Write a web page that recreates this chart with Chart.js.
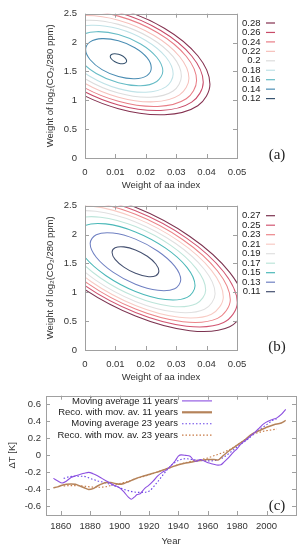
<!DOCTYPE html>
<html>
<head>
<meta charset="utf-8">
<script src="https://cdn.jsdelivr.net/npm/chart.js@4.4.1/dist/chart.umd.min.js"></script>
<style>
  html, body { margin: 0; padding: 0; background: #fff; }
  body { width: 301px; height: 550px; position: relative; overflow: hidden; }
  canvas { position: absolute; left: 0; }
  #chartA { top: 0; }
  #chartB { top: 192px; }
  #chartC { top: 385px; }
</style>
</head>
<body>
<canvas id="chartA" width="301" height="195"></canvas>
<canvas id="chartB" width="301" height="195"></canvas>
<canvas id="chartC" width="301" height="165"></canvas>
<script>
// ticks of panels (a) and (b)
const aaTicks = [0, 0.01, 0.02, 0.03, 0.04, 0.05];
const co2Ticks = [0, 0.5, 1, 1.5, 2, 2.5];

// panel (a) - contour levels, top of the key first
const levelsA = [0.28, 0.26, 0.24, 0.22, 0.2, 0.18, 0.16, 0.14, 0.12];
const a028 = [[0.0411,1.279],[0.0371,1.771],[0.0261,2.249],[0.0110,2.585],[-0.0041,2.690],[-0.0151,2.534],[-0.0191,2.161],[-0.0151,1.669],[-0.0041,1.191],[0.0110,0.855],[0.0261,0.751],[0.0371,0.906]];
const a026 = [[0.0389,1.312],[0.0351,1.767],[0.0249,2.209],[0.0110,2.520],[-0.0029,2.617],[-0.0131,2.473],[-0.0169,2.128],[-0.0131,1.673],[-0.0029,1.231],[0.0110,0.920],[0.0249,0.823],[0.0351,0.967]];
const a024 = [[0.0367,1.344],[0.0333,1.763],[0.0239,2.171],[0.0110,2.458],[-0.0019,2.547],[-0.0113,2.415],[-0.0147,2.096],[-0.0113,1.677],[-0.0019,1.269],[0.0110,0.982],[0.0239,0.893],[0.0333,1.026]];
const a022 = [[0.0342,1.380],[0.0311,1.759],[0.0226,2.127],[0.0110,2.387],[-0.0006,2.467],[-0.0091,2.347],[-0.0122,2.060],[-0.0091,1.681],[-0.0006,1.313],[0.0110,1.054],[0.0226,0.973],[0.0311,1.093]];
const a020 = [[0.0317,1.417],[0.0290,1.755],[0.0214,2.084],[0.0110,2.315],[0.0006,2.387],[-0.0070,2.280],[-0.0097,2.023],[-0.0070,1.685],[0.0006,1.356],[0.0110,1.125],[0.0214,1.053],[0.0290,1.160]];
const a018 = [[0.0290,1.456],[0.0266,1.750],[0.0200,2.037],[0.0110,2.238],[0.0020,2.300],[-0.0046,2.207],[-0.0070,1.984],[-0.0046,1.690],[0.0020,1.404],[0.0110,1.202],[0.0200,1.140],[0.0266,1.233]];
const a016 = [[0.0256,1.507],[0.0236,1.745],[0.0183,1.976],[0.0110,2.139],[0.0037,2.189],[-0.0016,2.114],[-0.0036,1.933],[-0.0016,1.695],[0.0037,1.464],[0.0110,1.302],[0.0183,1.251],[0.0236,1.326]];
const a014 = [[0.0218,1.562],[0.0204,1.738],[0.0164,1.910],[0.0110,2.030],[0.0056,2.068],[0.0017,2.012],[0.0002,1.878],[0.0017,1.702],[0.0056,1.531],[0.0110,1.410],[0.0164,1.373],[0.0204,1.428]];
const a012 = [[0.0137,1.680],[0.0133,1.725],[0.0124,1.767],[0.0110,1.798],[0.0097,1.807],[0.0087,1.793],[0.0083,1.760],[0.0087,1.715],[0.0097,1.673],[0.0110,1.643],[0.0124,1.633],[0.0133,1.647]];
const contoursA = [a028, a026, a024, a022, a020, a018, a016, a014, a012];
const coloursA = ['#84304f', '#c84a68', '#e87d86', '#f6c0bb', '#dcdcdc', '#bfe2e7', '#66bcc6', '#4a8db3', '#37536f'];

// panel (b)
const levelsB = [0.27, 0.25, 0.23, 0.21, 0.19, 0.17, 0.15, 0.13, 0.11];
const b027 = [[0.0524,0.772],[0.0476,1.345],[0.0345,1.967],[0.0166,2.472],[-0.0013,2.725],[-0.0144,2.657],[-0.0192,2.285],[-0.0144,1.715],[-0.0013,1.093],[0.0166,0.589],[0.0345,0.335],[0.0476,0.402]];
const b025 = [[0.0501,0.821],[0.0456,1.356],[0.0334,1.939],[0.0166,2.411],[-0.0002,2.648],[-0.0124,2.584],[-0.0169,2.239],[-0.0124,1.704],[-0.0002,1.121],[0.0166,0.649],[0.0334,0.413],[0.0456,0.475]];
const b023 = [[0.0478,0.870],[0.0436,1.368],[0.0322,1.910],[0.0166,2.350],[0.0010,2.570],[-0.0104,2.512],[-0.0146,2.190],[-0.0104,1.692],[0.0010,1.150],[0.0166,0.710],[0.0322,0.490],[0.0436,0.548]];
const b021 = [[0.0455,0.919],[0.0416,1.380],[0.0310,1.882],[0.0166,2.289],[0.0022,2.493],[-0.0084,2.439],[-0.0123,2.141],[-0.0084,1.680],[0.0022,1.178],[0.0166,0.771],[0.0310,0.567],[0.0416,0.621]];
const b019 = [[0.0428,0.976],[0.0393,1.394],[0.0297,1.849],[0.0166,2.219],[0.0035,2.404],[-0.0061,2.354],[-0.0096,2.084],[-0.0061,1.666],[0.0035,1.211],[0.0166,0.842],[0.0297,0.657],[0.0393,0.706]];
const b017 = [[0.0397,1.041],[0.0366,1.410],[0.0282,1.812],[0.0166,2.138],[0.0051,2.301],[-0.0034,2.257],[-0.0065,2.019],[-0.0034,1.650],[0.0051,1.248],[0.0166,0.923],[0.0282,0.759],[0.0366,0.803]];
const b015 = [[0.0362,1.114],[0.0336,1.428],[0.0264,1.769],[0.0166,2.046],[0.0068,2.185],[-0.0004,2.148],[-0.0030,1.946],[-0.0004,1.632],[0.0068,1.291],[0.0166,1.014],[0.0264,0.875],[0.0336,0.912]];
const b013 = [[0.0315,1.215],[0.0295,1.453],[0.0240,1.711],[0.0166,1.921],[0.0092,2.026],[0.0037,1.998],[0.0017,1.845],[0.0037,1.607],[0.0092,1.349],[0.0166,1.139],[0.0240,1.034],[0.0295,1.062]];
const b011 = [[0.0243,1.367],[0.0233,1.490],[0.0205,1.624],[0.0166,1.733],[0.0128,1.787],[0.0099,1.772],[0.0089,1.693],[0.0099,1.570],[0.0128,1.436],[0.0166,1.328],[0.0205,1.273],[0.0233,1.288]];
const contoursB = [b027, b025, b023, b021, b019, b017, b015, b013, b011];
const coloursB = ['#7c3350', '#d25672', '#ec8589', '#f8cbc4', '#e0e0e0', '#bde5da', '#4ab8b8', '#6f80c2', '#445070'];

// panel (c)
const yearTicks = [1860, 1880, 1900, 1920, 1940, 1960, 1980, 2000];
const dtTicks = [-0.6, -0.4, -0.2, 0, 0.2, 0.4, 0.6];
const seriesNames = ['Moving average 11 years', 'Reco. with mov. av. 11 years', 'Moving average 23 years', 'Reco. with mov. av. 23 years'];
const ma11Years = [1855,1858,1861,1864,1867,1870,1873,1876,1879,1882,1885,1888,1891,1894,1897,1900,1903,1906,1908,1910,1912,1914,1917,1920,1923,1926,1929,1932,1935,1938,1940,1942,1945,1948,1950,1952,1955,1958,1961,1964,1967,1969,1971,1974,1977,1980,1983,1986,1989,1992,1995,1998,2001,2004,2007,2010,2013];
const ma11 = [-0.27,-0.30,-0.325,-0.30,-0.26,-0.24,-0.225,-0.21,-0.20,-0.215,-0.24,-0.27,-0.30,-0.33,-0.355,-0.38,-0.43,-0.49,-0.515,-0.49,-0.46,-0.45,-0.39,-0.35,-0.30,-0.24,-0.20,-0.17,-0.12,-0.06,-0.01,0.005,0.0,-0.01,-0.05,-0.07,-0.05,-0.07,-0.09,-0.105,-0.115,-0.11,-0.08,-0.03,0.03,0.08,0.14,0.18,0.225,0.27,0.32,0.37,0.40,0.42,0.44,0.48,0.54];
const reco11Years = [1855,1858,1861,1864,1867,1870,1873,1876,1879,1882,1885,1888,1891,1894,1897,1900,1903,1906,1910,1915,1920,1925,1930,1935,1940,1945,1950,1955,1960,1964,1967,1970,1975,1980,1985,1990,1995,2000,2005,2010,2013];
const reco11 = [-0.38,-0.37,-0.35,-0.34,-0.335,-0.34,-0.36,-0.38,-0.40,-0.39,-0.36,-0.335,-0.32,-0.32,-0.33,-0.34,-0.33,-0.31,-0.28,-0.25,-0.225,-0.20,-0.17,-0.14,-0.11,-0.09,-0.075,-0.06,-0.05,-0.05,-0.055,-0.01,0.06,0.12,0.18,0.25,0.29,0.33,0.36,0.38,0.41];
const ma23Years = [1862,1866,1870,1875,1880,1885,1890,1895,1900,1905,1910,1915,1920,1925,1930,1935,1940,1945,1950,1955,1960,1965,1970,1975,1980,1985,1990,1995,2000,2004,2007];
const ma23 = [-0.27,-0.25,-0.245,-0.245,-0.27,-0.30,-0.32,-0.35,-0.38,-0.41,-0.43,-0.435,-0.42,-0.33,-0.22,-0.12,-0.06,-0.04,-0.05,-0.06,-0.065,-0.06,-0.03,0.03,0.10,0.16,0.23,0.30,0.36,0.41,0.43];
const reco23Years = [1862,1866,1870,1875,1880,1885,1890,1895,1900,1905,1910,1915,1920,1925,1930,1935,1940,1945,1950,1955,1960,1965,1970,1975,1980,1985,1990,1995,2000,2004,2007];
const reco23 = [-0.36,-0.355,-0.355,-0.36,-0.37,-0.375,-0.37,-0.35,-0.33,-0.31,-0.28,-0.255,-0.23,-0.20,-0.17,-0.14,-0.11,-0.085,-0.065,-0.05,-0.03,0.00,0.03,0.07,0.12,0.18,0.24,0.27,0.29,0.30,0.31];

Chart.defaults.font.family = '"Liberation Sans", Arial, sans-serif';
Chart.defaults.font.size = 9.5;
Chart.defaults.color = '#333';

// gnuplot look: grey border, ticks inside the box, key on the side, panel tag
const gnuFrame = {
    id: 'gnuFrame',
    afterDatasetsDraw(chart, args, opts) {
        const ctx = chart.ctx;
        const area = chart.chartArea;
        const xs = chart.scales.x, ys = chart.scales.y;
        ctx.save();
        ctx.strokeStyle = '#a0a0a0';
        ctx.lineWidth = 1;
        ctx.beginPath();
        xs.ticks.forEach(t => {
            const px = Math.round(xs.getPixelForValue(t.value)) + 0.5;
            ctx.moveTo(px, area.bottom); ctx.lineTo(px, area.bottom - 4);
            ctx.moveTo(px, area.top); ctx.lineTo(px, area.top + 4);
        });
        ys.ticks.forEach(t => {
            const py = Math.round(ys.getPixelForValue(t.value)) + 0.5;
            ctx.moveTo(area.left, py); ctx.lineTo(area.left + 4, py);
            ctx.moveTo(area.right, py); ctx.lineTo(area.right - 4, py);
        });
        ctx.stroke();
        ctx.strokeRect(Math.round(area.left) + 0.5, Math.round(area.top) + 0.5,
            Math.round(area.right - area.left), Math.round(area.bottom - area.top));

        ctx.font = '9.5px "Liberation Sans", Arial, sans-serif';
        ctx.fillStyle = '#222';
        ctx.textAlign = 'right';
        ctx.textBaseline = 'middle';
        chart.data.datasets.forEach((ds, i) => {
            const y = opts.keyTop + i * opts.keyStep;
            ctx.fillText(ds.label, opts.keyRight, y);
            ctx.save();
            ctx.strokeStyle = ds.borderColor;
            ctx.lineWidth = ds.keyWidth || ds.borderWidth;
            ctx.setLineDash(ds.borderDash || []);
            ctx.beginPath();
            ctx.moveTo(opts.lineFrom, y);
            ctx.lineTo(opts.lineTo, y);
            ctx.stroke();
            ctx.restore();
        });

        ctx.font = '15px "Liberation Serif", serif';
        ctx.textAlign = 'center';
        ctx.fillText(opts.tag, opts.tagX, opts.tagY);
        ctx.restore();
    }
};

// wrap the ring so the spline closes smoothly; the two extra segments are hidden
function closedLoop(points) {
    const ring = [points[points.length - 1]].concat(points, [points[0], points[1]]);
    return ring.map(p => ({ x: p[0], y: p[1] }));
}

function contourChart(canvasId, levels, contours, colours, key) {
    const datasets = levels.map((level, i) => {
        const data = closedLoop(contours[i]);
        const last = data.length - 1;
        return {
            label: String(level),
            data: data,
            showLine: true,
            borderColor: colours[i],
            borderWidth: 1.05,
            keyWidth: 1.2,
            pointRadius: 0,
            tension: 0.35,
            segment: {
                borderColor: c => (c.p0DataIndex === 0 || c.p1DataIndex === last) ? 'rgba(0,0,0,0)' : undefined
            }
        };
    });
    return new Chart(document.getElementById(canvasId), {
        type: 'scatter',
        data: { datasets: datasets },
        plugins: [gnuFrame],
        options: {
            responsive: false,
            animation: false,
            layout: { padding: { left: 45, right: 64, top: 9, bottom: 0 } },
            elements: { line: { capBezierPoints: false } },
            plugins: { legend: { display: false }, tooltip: { enabled: false }, gnuFrame: key },
            scales: {
                x: {
                    min: 0, max: 0.05,
                    afterBuildTicks: s => { s.ticks = aaTicks.map(v => ({ value: v })); },
                    afterFit: s => { s.height = 37; },
                    grid: { display: false, drawTicks: false },
                    border: { display: false },
                    ticks: { padding: 9, maxRotation: 0, callback: v => String(v) },
                    title: { display: true, text: 'Weight of aa index', padding: { top: 0, bottom: 3.5 } }
                },
                y: {
                    min: 0, max: 2.5,
                    afterBuildTicks: s => { s.ticks = co2Ticks.map(v => ({ value: v })); },
                    afterFit: s => { s.width = 40; },
                    grid: { display: false, drawTicks: false },
                    border: { display: false },
                    ticks: { padding: 8, callback: v => String(v) },
                    title: { display: true, text: 'Weight of log₂(CO₂/280 ppm)', padding: { top: 0, bottom: 0 } }
                }
            }
        }
    });
}

contourChart('chartA', levelsA, contoursA, coloursA,
    { keyTop: 23, keyStep: 9.45, keyRight: 260.5, lineFrom: 266, lineTo: 275, tag: '(a)', tagX: 277, tagY: 155 });
contourChart('chartB', levelsB, contoursB, coloursB,
    { keyTop: 23.7, keyStep: 9.5, keyRight: 260.5, lineFrom: 266, lineTo: 275, tag: '(b)', tagX: 277, tagY: 155 });

function series(years, values) {
    return years.map((yr, i) => ({ x: yr, y: values[i] }));
}

new Chart(document.getElementById('chartC'), {
    type: 'scatter',
    data: {
        datasets: [
            { label: seriesNames[0], data: series(ma11Years, ma11), borderColor: '#8c4fe0', borderWidth: 1.1 },
            { label: seriesNames[1], data: series(reco11Years, reco11), borderColor: '#b5835a', borderWidth: 1.5, keyWidth: 2.2 },
            { label: seriesNames[2], data: series(ma23Years, ma23), borderColor: '#6a45e8', borderWidth: 1.1, borderDash: [1.5, 2] },
            { label: seriesNames[3], data: series(reco23Years, reco23), borderColor: '#c87a45', borderWidth: 1.1, borderDash: [1.5, 2] }
        ].map(ds => Object.assign(ds, { showLine: true, pointRadius: 0, cubicInterpolationMode: 'monotone' }))
    },
    plugins: [gnuFrame],
    options: {
        responsive: false,
        animation: false,
        layout: { padding: { left: 6.6, right: 5, top: 7, bottom: 0 } },
        plugins: {
            legend: { display: false },
            tooltip: { enabled: false },
            gnuFrame: { keyTop: 15.9, keyStep: 11.4, keyRight: 178, lineFrom: 182, lineTo: 212, tag: '(c)', tagX: 277, tagY: 121 }
        },
        scales: {
            x: {
                min: 1850, max: 2020,
                afterBuildTicks: s => { s.ticks = yearTicks.map(v => ({ value: v })); },
                afterFit: s => { s.height = 35; },
                grid: { display: false, drawTicks: false },
                border: { display: false },
                ticks: { padding: 6, maxRotation: 0, callback: v => String(v) },
                title: { display: true, text: 'Year', padding: { top: 0, bottom: 2.6 } }
            },
            y: {
                min: -0.7, max: 0.7,
                afterBuildTicks: s => { s.ticks = dtTicks.map(v => ({ value: v })); },
                afterFit: s => { s.width = 39.4; },
                grid: { display: false, drawTicks: false },
                border: { display: false },
                ticks: { padding: 5, callback: v => String(v) },
                title: { display: true, text: 'ΔT [K]', padding: { top: 0, bottom: 0 } }
            }
        }
    }
});
</script>
</body>
</html>
